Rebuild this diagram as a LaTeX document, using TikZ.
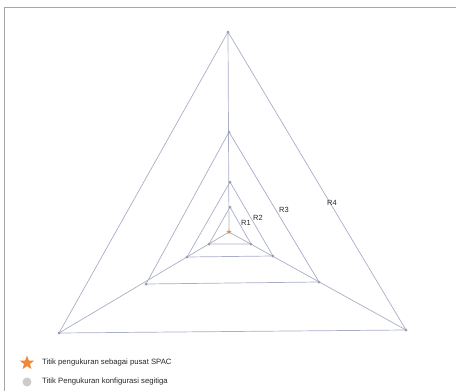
\documentclass[tikz,border=0pt]{standalone}
\usepackage{fontspec}
\setmainfont{Liberation Sans}
\usetikzlibrary{shapes.geometric}
\definecolor{edgecol}{HTML}{A9AEC6}
\definecolor{ptcol}{HTML}{9A9CA6}
\definecolor{starcol}{HTML}{F0883A}
\definecolor{legdot}{HTML}{CCCCCC}
\begin{document}
\begin{tikzpicture}[x=1pt,y=-1pt,
  edge/.style={draw=edgecol,line width=0.7pt},
  pt/.style={circle,fill=ptcol,inner sep=0pt,minimum size=3pt},
  lbl/.style={font=\fontsize{7.5}{8}\selectfont,inner sep=0pt,text=black!85},
  legtext/.style={font=\fontsize{7.7}{9}\selectfont,inner sep=0pt,anchor=west,text=black!85}]
\useasboundingbox (0,0) rectangle (456,391);
\draw[gray!70,line width=0.8pt] (4,391) -- (4,7) -- (456,7);
% center
\coordinate (C) at (229,232);
% vertices
\coordinate (T4) at (228,32);  \coordinate (L4) at (59,333);  \coordinate (R4) at (406,330);
\coordinate (T3) at (229,132); \coordinate (L3) at (146,284); \coordinate (R3) at (319,282);
\coordinate (T2) at (230,182); \coordinate (L2) at (187,257); \coordinate (R2) at (273,256);
\coordinate (T1) at (230,207); \coordinate (L1) at (209,244); \coordinate (R1) at (251,244);
% triangles
\foreach \i in {1,2,3,4}{
  \draw[edge] (T\i) -- (L\i) -- (R\i) -- cycle;
}
% spokes
\draw[edge] (C) -- (T4);
\draw[edge] (C) -- (L4);
\draw[edge] (C) -- (R4);
% points
\foreach \i in {1,2,3,4}{
  \node[pt] (pT\i) at (T\i) {};
  \node[pt] (pL\i) at (L\i) {};
  \node[pt] (pR\i) at (R\i) {};
}
\node[star,star points=5,star point ratio=2.4,fill=starcol,inner sep=0pt,minimum size=5pt] (s) at (C) {};
% labels
\node[lbl] (r1) at (246,223) {R1};
\node[lbl] (r2) at (258,218) {R2};
\node[lbl] (r3) at (284,210) {R3};
\node[lbl] (r4) at (332,203) {R4};
% legend
\node[star,star points=5,star point ratio=2.4,fill=starcol,inner sep=0pt,minimum size=15pt] (ls) at (27,363) {};
\node[legtext] (lt1) at (42,363) {Titik pengukuran sebagai pusat SPAC};
\node[circle,fill=legdot,inner sep=0pt,minimum size=9pt] (lc) at (27,382) {};
\node[legtext] (lt2) at (42,382) {Titik Pengukuran konfigurasi segitiga};
\end{tikzpicture}
\end{document}
